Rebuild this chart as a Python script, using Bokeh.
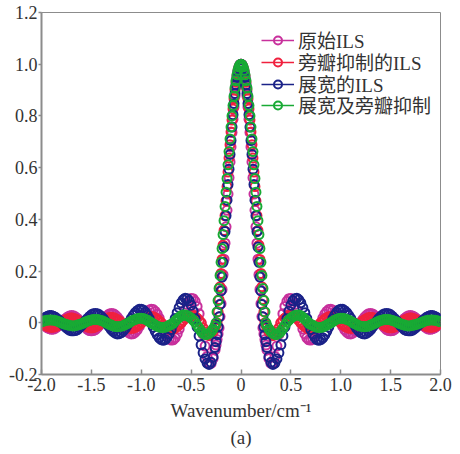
from bokeh.plotting import figure
from bokeh.models import (ColumnDataSource, Legend, LegendItem, FixedTicker,
                          Range1d, Title)
from bokeh.embed import file_html
from bokeh.resources import INLINE

# ---------------- data ----------------
# sampling grid: 0.02 steps in the wings, 0.01 steps across the main lobe
wavenumber = ([round(-2.0 + 0.02 * i, 2) for i in range(87)]
              + [round(-0.26 + 0.01 * i, 2) for i in range(53)]
              + [round(0.28 + 0.02 * i, 2) for i in range(87)])

original_ils = [
    0.000, -0.007, -0.014, -0.020, -0.023, -0.025, -0.024, -0.021, -0.015, -0.008,
    0.000, 0.008, 0.016, 0.022, 0.026, 0.028, 0.027, 0.023, 0.017, 0.009,
    0.000, -0.009, -0.018, -0.025, -0.030, -0.031, -0.030, -0.026, -0.019, -0.010,
    0.000, 0.011, 0.020, 0.028, 0.034, 0.036, 0.035, 0.030, 0.022, 0.012,
    0.000, -0.012, -0.024, -0.033, -0.040, -0.043, -0.042, -0.036, -0.027, -0.014,
    0.000, 0.015, 0.029, 0.041, 0.049, 0.052, 0.051, 0.044, 0.033, 0.018,
    0.000, -0.019, -0.036, -0.052, -0.062, -0.067, -0.066, -0.058, -0.043, -0.024,
    0.000, 0.025, 0.049, 0.071, 0.086, 0.094, 0.093, 0.083, 0.063, 0.035,
    0.000, -0.045, -0.090, -0.130, -0.155, -0.157, -0.138,
    -0.105, -0.086, -0.065, -0.043, -0.020, 0.024, 0.074, 0.129, 0.186, 0.246,
    0.308, 0.371, 0.435, 0.498, 0.561, 0.622, 0.680, 0.736, 0.787, 0.835,
    0.877, 0.914, 0.944, 0.968, 0.986, 0.996, 1.000, 0.996, 0.986, 0.968,
    0.944, 0.914, 0.877, 0.835, 0.787, 0.736, 0.680, 0.622, 0.561, 0.498,
    0.435, 0.371, 0.308, 0.246, 0.186, 0.129, 0.074, 0.024, -0.020, -0.043,
    -0.065, -0.086, -0.105,
    -0.138, -0.157, -0.155, -0.130, -0.090, -0.045, 0.000,
    0.035, 0.063, 0.083, 0.093, 0.094, 0.086, 0.071, 0.049, 0.025, 0.000,
    -0.024, -0.043, -0.058, -0.066, -0.067, -0.062, -0.052, -0.036, -0.019, 0.000,
    0.018, 0.033, 0.044, 0.051, 0.052, 0.049, 0.041, 0.029, 0.015, 0.000,
    -0.014, -0.027, -0.036, -0.042, -0.043, -0.040, -0.033, -0.024, -0.012, 0.000,
    0.012, 0.022, 0.030, 0.035, 0.036, 0.034, 0.028, 0.020, 0.011, 0.000,
    -0.010, -0.019, -0.026, -0.030, -0.031, -0.030, -0.025, -0.018, -0.009, 0.000,
    0.009, 0.017, 0.023, 0.027, 0.028, 0.026, 0.022, 0.016, 0.008, 0.000,
    -0.008, -0.015, -0.021, -0.024, -0.025, -0.023, -0.020, -0.014, -0.007, 0.000,
]

suppressed_ils = [
    0.000, -0.006, -0.011, -0.015, -0.017, -0.018, -0.017, -0.015, -0.011, -0.006,
    0.000, 0.006, 0.011, 0.015, 0.018, 0.019, 0.018, 0.015, 0.011, 0.006,
    0.000, -0.006, -0.012, -0.016, -0.019, -0.020, -0.019, -0.016, -0.012, -0.006,
    0.000, 0.007, 0.012, 0.017, 0.020, 0.021, 0.020, 0.017, 0.012, 0.007,
    0.000, -0.007, -0.013, -0.018, -0.021, -0.022, -0.021, -0.018, -0.013, -0.007,
    0.000, 0.007, 0.014, 0.019, 0.023, 0.024, 0.023, 0.019, 0.014, 0.007,
    0.000, -0.008, -0.015, -0.021, -0.025, -0.026, -0.025, -0.021, -0.015, -0.008,
    0.000, 0.009, 0.018, 0.024, 0.029, 0.030, 0.029, 0.024, 0.018, 0.009,
    0.000, -0.020, -0.036, -0.046, -0.050, -0.045, -0.034,
    -0.018, -0.009, 0.000, 0.043, 0.090, 0.139, 0.191, 0.245, 0.300, 0.357,
    0.414, 0.471, 0.527, 0.583, 0.637, 0.689, 0.738, 0.784, 0.827, 0.866,
    0.900, 0.930, 0.955, 0.975, 0.989, 0.997, 1.000, 0.997, 0.989, 0.975,
    0.955, 0.930, 0.900, 0.866, 0.827, 0.784, 0.738, 0.689, 0.637, 0.583,
    0.527, 0.471, 0.414, 0.357, 0.300, 0.245, 0.191, 0.139, 0.090, 0.043,
    0.000, -0.009, -0.018,
    -0.034, -0.045, -0.050, -0.046, -0.036, -0.020, 0.000,
    0.009, 0.018, 0.024, 0.029, 0.030, 0.029, 0.024, 0.018, 0.009, 0.000,
    -0.008, -0.015, -0.021, -0.025, -0.026, -0.025, -0.021, -0.015, -0.008, 0.000,
    0.007, 0.014, 0.019, 0.023, 0.024, 0.023, 0.019, 0.014, 0.007, 0.000,
    -0.007, -0.013, -0.018, -0.021, -0.022, -0.021, -0.018, -0.013, -0.007, 0.000,
    0.007, 0.012, 0.017, 0.020, 0.021, 0.020, 0.017, 0.012, 0.007, 0.000,
    -0.006, -0.012, -0.016, -0.019, -0.020, -0.019, -0.016, -0.012, -0.006, 0.000,
    0.006, 0.011, 0.015, 0.018, 0.019, 0.018, 0.015, 0.011, 0.006, 0.000,
    -0.006, -0.011, -0.015, -0.017, -0.018, -0.017, -0.015, -0.011, -0.006, 0.000,
]

broadened_ils = [
    0.009, 0.016, 0.021, 0.025, 0.028, 0.028, 0.025, 0.021, 0.015, 0.008,
    0.000, -0.008, -0.016, -0.023, -0.028, -0.031, -0.031, -0.030, -0.026, -0.019,
    -0.011, -0.002, 0.007, 0.016, 0.024, 0.031, 0.035, 0.036, 0.035, 0.031,
    0.024, 0.016, 0.005, -0.006, -0.016, -0.026, -0.034, -0.040, -0.043, -0.042,
    -0.038, -0.031, -0.022, -0.010, 0.003, 0.017, 0.029, 0.039, 0.047, 0.052,
    0.052, 0.049, 0.041, 0.030, 0.016, 0.000, -0.017, -0.033, -0.047, -0.058,
    -0.065, -0.068, -0.065, -0.056, -0.043, -0.026, -0.005, 0.017, 0.039, 0.059,
    0.077, 0.089, 0.095, 0.093, 0.085, 0.068, 0.045, 0.016, -0.017, -0.051,
    -0.085, -0.116, -0.140, -0.156, -0.161, -0.153, -0.132,
    -0.096, -0.073, -0.046, -0.016, 0.023, 0.071, 0.123, 0.177, 0.234, 0.293,
    0.353, 0.414, 0.474, 0.535, 0.594, 0.651, 0.705, 0.757, 0.805, 0.848,
    0.887, 0.921, 0.949, 0.971, 0.987, 0.997, 1.000, 0.997, 0.987, 0.971,
    0.949, 0.921, 0.887, 0.848, 0.805, 0.757, 0.705, 0.651, 0.594, 0.535,
    0.474, 0.414, 0.353, 0.293, 0.234, 0.177, 0.123, 0.071, 0.023, -0.016,
    -0.046, -0.073, -0.096,
    -0.132, -0.153, -0.161, -0.156, -0.140, -0.116, -0.085,
    -0.051, -0.017, 0.016, 0.045, 0.068, 0.085, 0.093, 0.095, 0.089, 0.077,
    0.059, 0.039, 0.017, -0.005, -0.026, -0.043, -0.056, -0.065, -0.068, -0.065,
    -0.058, -0.047, -0.033, -0.017, 0.000, 0.016, 0.030, 0.041, 0.049, 0.052,
    0.052, 0.047, 0.039, 0.029, 0.017, 0.003, -0.010, -0.022, -0.031, -0.038,
    -0.042, -0.043, -0.040, -0.034, -0.026, -0.016, -0.006, 0.005, 0.016, 0.024,
    0.031, 0.035, 0.036, 0.035, 0.031, 0.024, 0.016, 0.007, -0.002, -0.011,
    -0.019, -0.026, -0.030, -0.031, -0.031, -0.028, -0.023, -0.016, -0.008, 0.000,
    0.008, 0.015, 0.021, 0.025, 0.028, 0.028, 0.025, 0.021, 0.016, 0.009,
]

broadened_suppressed_ils = [
    0.004, 0.006, 0.009, 0.010, 0.011, 0.011, 0.010, 0.009, 0.006, 0.003,
    0.000, -0.003, -0.006, -0.008, -0.010, -0.011, -0.012, -0.011, -0.009, -0.007,
    -0.004, -0.001, 0.003, 0.006, 0.009, 0.011, 0.013, 0.013, 0.013, 0.011,
    0.009, 0.006, 0.002, -0.002, -0.006, -0.009, -0.012, -0.014, -0.015, -0.014,
    -0.013, -0.011, -0.007, -0.003, 0.001, 0.006, 0.010, 0.013, 0.016, 0.018,
    0.018, 0.017, 0.014, 0.010, 0.005, 0.000, -0.004, -0.009, -0.013, -0.016,
    -0.018, -0.018, -0.017, -0.014, -0.010, -0.006, -0.002, 0.006, 0.014, 0.021,
    0.027, 0.030, 0.030, 0.028, 0.024, 0.018, 0.010, 0.002, -0.010, -0.022,
    -0.033, -0.041, -0.045, -0.045, -0.041, -0.034, -0.024,
    -0.012, 0.000, 0.042, 0.086, 0.133, 0.183, 0.234, 0.287, 0.341, 0.395,
    0.450, 0.505, 0.558, 0.611, 0.662, 0.711, 0.757, 0.800, 0.840, 0.876,
    0.908, 0.936, 0.959, 0.977, 0.990, 0.997, 1.000, 0.997, 0.990, 0.977,
    0.959, 0.936, 0.908, 0.876, 0.840, 0.800, 0.757, 0.711, 0.662, 0.611,
    0.558, 0.505, 0.450, 0.395, 0.341, 0.287, 0.234, 0.183, 0.133, 0.086,
    0.042, 0.000, -0.012,
    -0.024, -0.034, -0.041, -0.045, -0.045, -0.041, -0.033,
    -0.022, -0.010, 0.002, 0.010, 0.018, 0.024, 0.028, 0.030, 0.030, 0.027,
    0.021, 0.014, 0.006, -0.002, -0.006, -0.010, -0.014, -0.017, -0.018, -0.018,
    -0.016, -0.013, -0.009, -0.004, 0.000, 0.005, 0.010, 0.014, 0.017, 0.018,
    0.018, 0.016, 0.013, 0.010, 0.006, 0.001, -0.003, -0.007, -0.011, -0.013,
    -0.014, -0.015, -0.014, -0.012, -0.009, -0.006, -0.002, 0.002, 0.006, 0.009,
    0.011, 0.013, 0.013, 0.013, 0.011, 0.009, 0.006, 0.003, -0.001, -0.004,
    -0.007, -0.009, -0.011, -0.012, -0.011, -0.010, -0.008, -0.006, -0.003, 0.000,
    0.003, 0.006, 0.009, 0.010, 0.011, 0.011, 0.010, 0.009, 0.006, 0.004,
]

series_labels = ["原始ILS", "旁瓣抑制的ILS", "展宽的ILS", "展宽及旁瓣抑制"]
x_ticks = [-2.0, -1.5, -1.0, -0.5, 0.0, 0.5, 1.0, 1.5, 2.0]
x_tick_labels = ["-2.0", "-1.5", "-1.0", "-0.5", "0", "0.5", "1.0", "1.5", "2.0"]
y_ticks = [-0.2, 0.0, 0.2, 0.4, 0.6, 0.8, 1.0, 1.2]
y_tick_labels = ["-0.2", "0", "0.2", "0.4", "0.6", "0.8", "1.0", "1.2"]
x_title = "Wavenumber/cm⁻¹"
caption = "(a)"

all_series = [original_ils, suppressed_ils, broadened_ils, broadened_suppressed_ils]
for s in all_series:
    assert len(s) == len(wavenumber), (len(s), len(wavenumber))

# ---------------- styling ----------------
colors = ["#c8309c", "#f0203e", "#1a2288", "#18aa34"]
serif = "Liberation Serif"
text_color = "#333333"
axis_color = "#8c8c8c"

p = figure(width=452, height=452,
           x_range=Range1d(-2.0, 2.0), y_range=Range1d(-0.2, 1.2),
           output_backend="svg", toolbar_location=None,
           min_border_left=41, min_border_right=12,
           min_border_top=12, min_border_bottom=78)
p.background_fill_color = "white"
p.border_fill_color = "white"
p.outline_line_color = axis_color
p.outline_line_width = 1
p.grid.visible = False

p.xaxis.ticker = FixedTicker(ticks=x_ticks, minor_ticks=[])
p.yaxis.ticker = FixedTicker(ticks=y_ticks, minor_ticks=[])
p.xaxis.major_label_overrides = dict(zip(x_ticks, x_tick_labels))
p.yaxis.major_label_overrides = dict(zip(y_ticks, y_tick_labels))

for ax in (p.xaxis[0], p.yaxis[0]):
    ax.axis_line_color = axis_color
    ax.axis_line_width = 2
    ax.major_tick_line_color = axis_color
    ax.major_tick_line_width = 1.5
    ax.minor_tick_line_color = None
    ax.major_label_text_font = serif
    ax.major_label_text_font_size = "18px"
    ax.major_label_text_color = text_color

p.xaxis.major_tick_in = 5
p.xaxis.major_tick_out = 0
p.xaxis.major_label_standoff = 3
p.yaxis.major_tick_in = 0
p.yaxis.major_tick_out = 3
p.yaxis.major_label_standoff = 1

p.xaxis.axis_label = x_title
p.xaxis.axis_label_text_font = serif
p.xaxis.axis_label_text_font_size = "19px"
p.xaxis.axis_label_text_font_style = "normal"
p.xaxis.axis_label_text_color = text_color
p.xaxis.axis_label_standoff = 6

p.add_layout(Title(text=caption, align="center", text_font=serif,
                   text_font_size="19px", text_font_style="normal",
                   text_color=text_color, standoff=3), "below")

nan = float("nan")
legend_bottoms = [321, 299, 277, 256]
for label, ys, c, bottom in zip(series_labels, all_series, colors, legend_bottoms):
    src = ColumnDataSource(dict(x=wavenumber, y=ys))
    r = p.scatter("x", "y", source=src, marker="circle", size=9,
                  line_color=c, line_width=2, fill_color=None)
    proxy = p.line(x=[nan], y=[nan], line_color=c, line_width=1.5)
    leg = Legend(items=[LegendItem(label=label, renderers=[proxy, r])],
                 location=(220, bottom),
                 glyph_width=33, glyph_height=20, label_height=20,
                 label_standoff=4, spacing=0, padding=0, margin=0,
                 border_line_color=None, background_fill_alpha=0,
                 label_text_font=serif + ", Noto Sans CJK SC",
                 label_text_font_size="19px", label_text_color=text_color)
    p.add_layout(leg)

open("out.html", "w").write(file_html(p, INLINE))
